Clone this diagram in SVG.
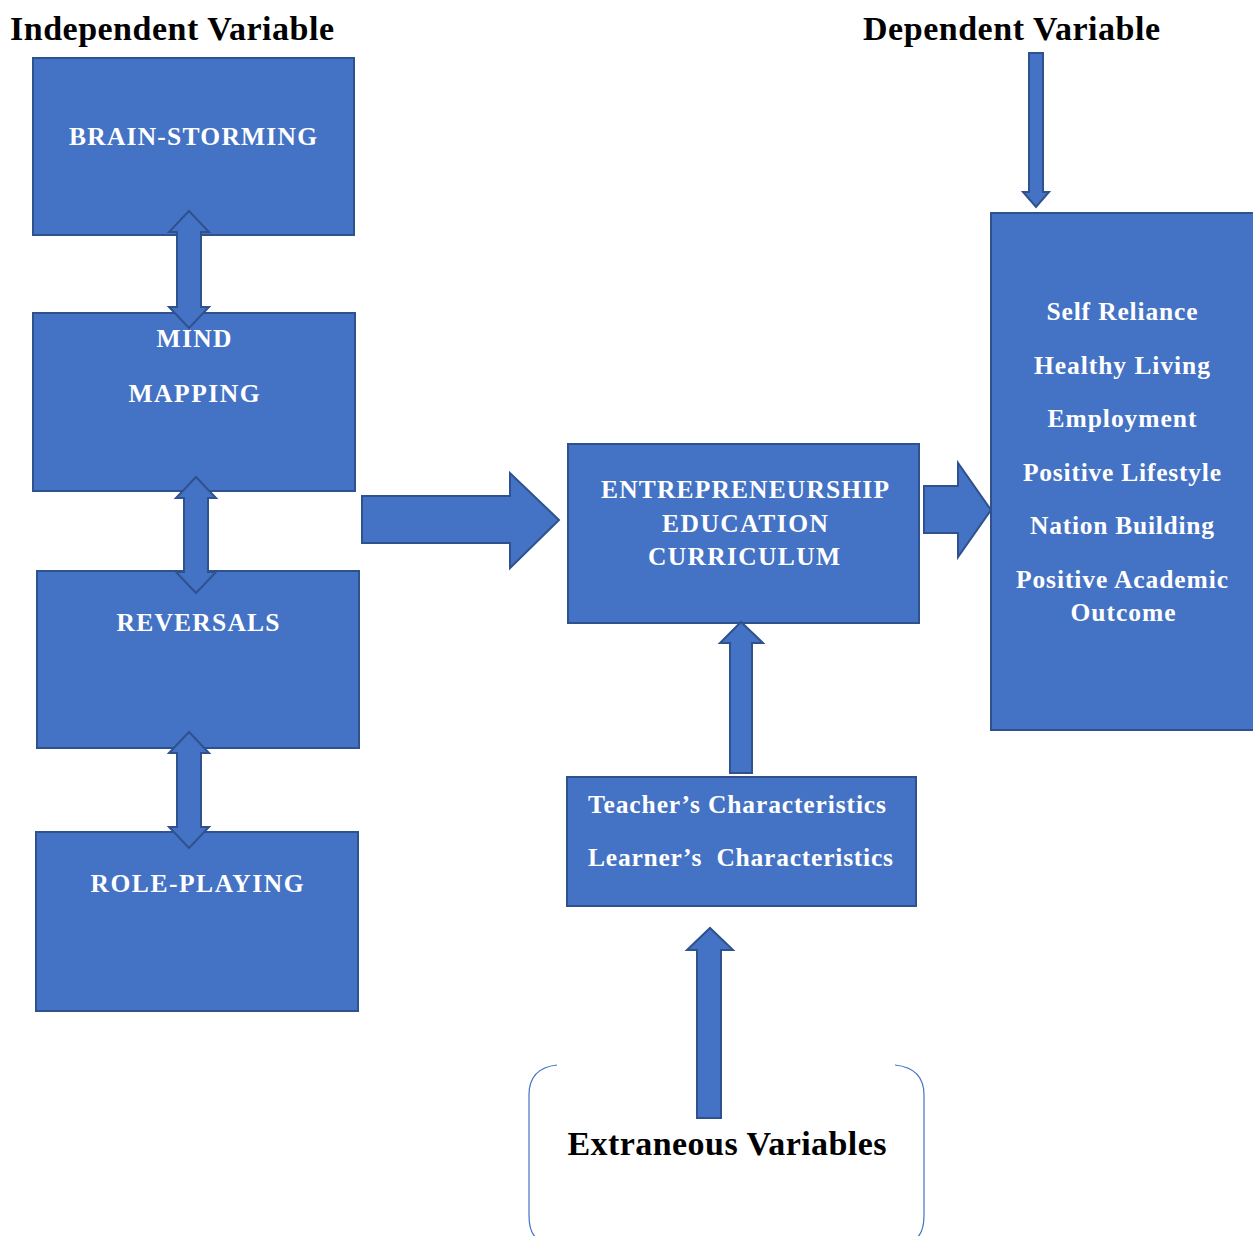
<svg xmlns="http://www.w3.org/2000/svg" width="1253" height="1236" viewBox="0 0 1253 1236">
<style>
.box{fill:#4472C4;stroke:#2F528F;stroke-width:2}
.arr{fill:#4472C4;stroke:#2F528F;stroke-width:2;stroke-linejoin:miter}
.t{font-family:"Liberation Serif","Times New Roman",serif;font-weight:bold;font-size:25.5px;fill:#fff}
.c{text-anchor:middle}
.h{font-family:"Liberation Serif","Times New Roman",serif;font-weight:bold;font-size:34px;fill:#000}
.br{fill:none;stroke:#4472C4;stroke-width:1.2}
</style>
<rect width="1253" height="1236" fill="#fff"/>
<text class="h" x="10" y="40" textLength="324" lengthAdjust="spacing">Independent Variable</text>
<text class="h" x="863" y="40" textLength="297" lengthAdjust="spacing">Dependent Variable</text>

<g id="brainstorming"><rect class="box" x="33" y="58" width="321" height="177"/><text class="t c" x="193" y="145" textLength="248" lengthAdjust="spacing">BRAIN-STORMING</text></g>
<g id="mindmapping"><rect class="box" x="33" y="313" width="322" height="178"/><text class="t c" x="194" y="347" textLength="75" lengthAdjust="spacing">MIND</text><text class="t c" x="194" y="402" textLength="131" lengthAdjust="spacing">MAPPING</text></g>
<g id="reversals"><rect class="box" x="37" y="571" width="322" height="177"/><text class="t c" x="198" y="631" textLength="163" lengthAdjust="spacing">REVERSALS</text></g>
<g id="roleplaying"><rect class="box" x="36" y="832" width="322" height="179"/><text class="t c" x="197" y="892" textLength="213" lengthAdjust="spacing">ROLE-PLAYING</text></g>
<g id="curriculum"><rect class="box" x="568" y="444" width="351" height="179"/><text class="t c" x="745" y="498" textLength="288" lengthAdjust="spacing">ENTREPRENEURSHIP</text><text class="t c" x="745" y="532" textLength="166" lengthAdjust="spacing">EDUCATION</text><text class="t c" x="744" y="565" textLength="192" lengthAdjust="spacing">CURRICULUM</text></g>
<g id="characteristics"><rect class="box" x="567" y="777" width="349" height="129"/><text class="t" x="588" y="813" textLength="298" lengthAdjust="spacing">Teacher’s Characteristics</text><text class="t" x="588" y="866" xml:space="preserve" textLength="305" lengthAdjust="spacing">Learner’s  Characteristics</text></g>
<g id="outcomes"><rect class="box" x="991" y="213" width="270" height="517"/>
<text class="t c" x="1122" y="320" textLength="151" lengthAdjust="spacing">Self Reliance</text>
<text class="t c" x="1122" y="374" textLength="176" lengthAdjust="spacing">Healthy Living</text>
<text class="t c" x="1122" y="427" textLength="149" lengthAdjust="spacing">Employment</text>
<text class="t c" x="1122" y="481" textLength="198" lengthAdjust="spacing">Positive Lifestyle</text>
<text class="t c" x="1122" y="534" textLength="184" lengthAdjust="spacing">Nation Building</text>
<text class="t c" x="1122" y="588" textLength="212" lengthAdjust="spacing">Positive Academic</text>
<text class="t c" x="1123" y="621" textLength="105" lengthAdjust="spacing">Outcome</text></g>
<g id="extraneous">
<path class="br" d="M557,1065 Q529,1068 529,1095 L529,1215 Q529,1236 540,1240"/>
<path class="br" d="M895,1065 Q924,1068 924,1095 L924,1215 Q924,1236 913,1240"/>
<text class="h" x="727" y="1155" text-anchor="middle" textLength="319" lengthAdjust="spacing">Extraneous Variables</text>
</g>

<g id="connectors">
<path class="arr" d="M189,211 L209,232 L201,232 L201,307 L209,307 L189,328 L169,307 L177,307 L177,232 L169,232 Z"/>
<path class="arr" d="M196,477 L216,498 L208,498 L208,572 L216,572 L196,593 L176,572 L184,572 L184,498 L176,498 Z"/>
<path class="arr" d="M189,732 L209,753 L201,753 L201,827 L209,827 L189,848 L169,827 L177,827 L177,753 L169,753 Z"/>
<path class="arr" d="M362,496 L510,496 L510,473 L559,520 L510,568 L510,543 L362,543 Z"/>
<path class="arr" d="M924,486 L958,486 L958,463 L991,510 L958,557 L958,533 L924,533 Z"/>
<path class="arr" d="M1029,53 L1043,53 L1043,192 L1049,192 L1036,207 L1023,192 L1029,192 Z"/>
<path class="arr" d="M730,773 L752,773 L752,643 L763,643 L741,622 L720,643 L730,643 Z"/>
<path class="arr" d="M697,1118 L721,1118 L721,950 L733,950 L710,928 L687,950 L697,950 Z"/>
</g>
</svg>
